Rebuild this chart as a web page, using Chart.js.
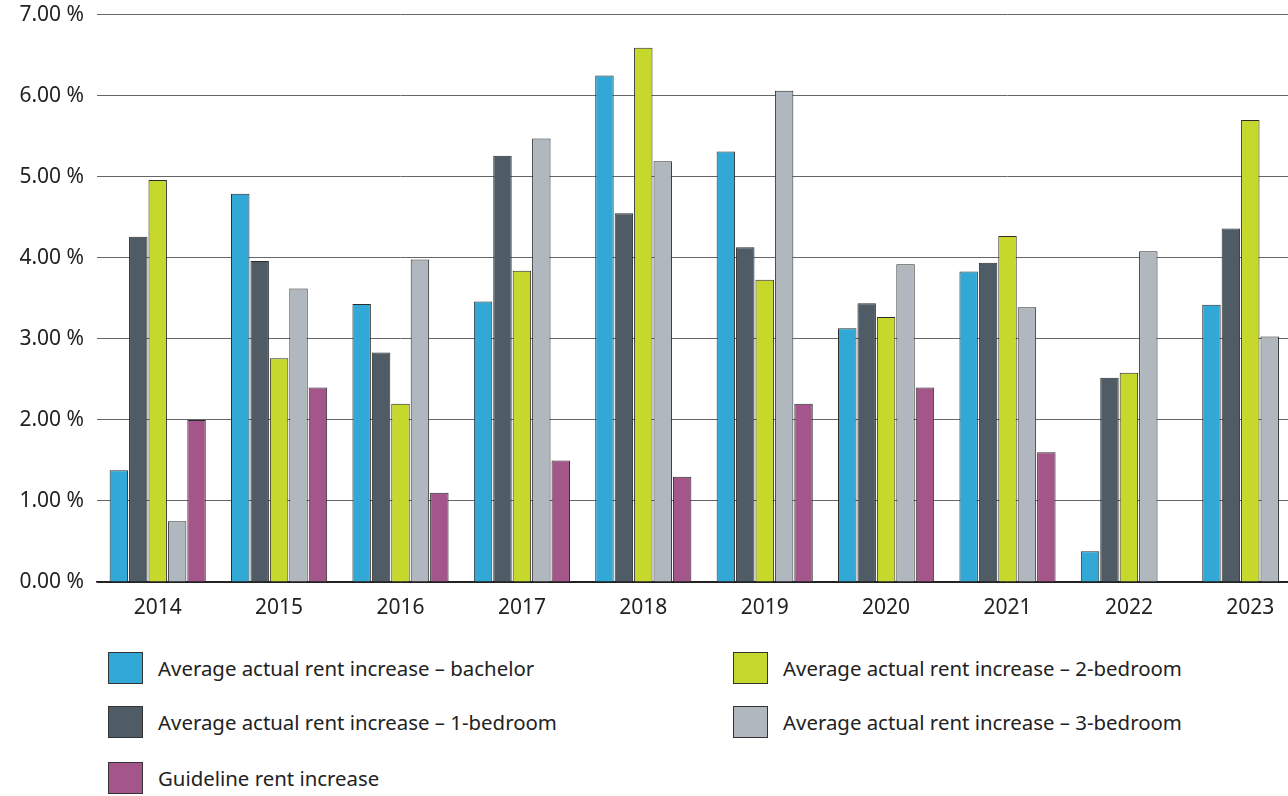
<!DOCTYPE html>
<html>
<head>
<meta charset="utf-8">
<script src="https://cdn.jsdelivr.net/npm/chart.js@4"></script>
<style>
    body { margin: 0; overflow: hidden; background: #fff; font-family: "Noto Sans", sans-serif; }
    #wrap { position: absolute; left: 0; top: -11px; width: 1311px; height: 634px; }
    .legend-item { position: absolute; height: 33px; display: flex; align-items: center; font-size: 20.4px; color: #222; white-space: nowrap; }
    .legend-box { width: 35px; height: 32px; border: 1px solid #333; margin-right: 15px; box-sizing: border-box; }
</style>
</head>
<body>
<div id="wrap"><canvas id="rentChart" width="1311" height="634"></canvas></div>
<div id="legend"></div>
<script>
// data (%)
var years = ['2014', '2015', '2016', '2017', '2018', '2019', '2020', '2021', '2022', '2023'];
var bachelor = [1.38, 4.79, 3.43, 3.46, 6.25, 5.31, 3.13, 3.83, 0.38, 3.42];
var oneBed = [4.26, 3.96, 2.83, 5.26, 4.55, 4.13, 3.44, 3.94, 2.52, 4.36];
var twoBed = [4.96, 2.76, 2.20, 3.84, 6.59, 3.73, 3.27, 4.27, 2.58, 5.70];
var threeBed = [0.75, 3.62, 3.98, 5.47, 5.19, 6.06, 3.92, 3.39, 4.08, 3.03];
var guideline = [2.0, 2.4, 1.1, 1.5, 1.3, 2.2, 2.4, 1.6, null, null];
var yTicks = [0, 1, 2, 3, 4, 5, 6, 7];

var seriesNames = [
    'Average actual rent increase \u2013 bachelor',
    'Average actual rent increase \u2013 1-bedroom',
    'Average actual rent increase \u2013 2-bedroom',
    'Average actual rent increase \u2013 3-bedroom',
    'Guideline rent increase'
];
var seriesColors = ['#32a8d6', '#4f5c65', '#c6d82c', '#b0b7be', '#a4558a'];
var seriesData = [bachelor, oneBed, twoBed, threeBed, guideline];

var datasets = seriesData.map(function (d, i) {
    return {
        label: seriesNames[i],
        data: d,
        backgroundColor: seriesColors[i],
        borderColor: '#2b2b2b',
        borderWidth: 1,
        categoryPercentage: 0.8,
        barPercentage: 0.95
    };
});

var ctx = document.getElementById('rentChart').getContext('2d');
var rentChart = new Chart(ctx, {
    type: 'bar',
    data: { labels: years, datasets: datasets },
    options: {
        responsive: false,
        animation: false,
        layout: { padding: { top: 1, right: 0, bottom: 0, left: 0 } },
        plugins: { legend: { display: false }, tooltip: { enabled: false } },
        scales: {
            x: {
                grid: { display: false },
                border: { color: '#222', width: 1.5 },
                ticks: { color: '#222', font: { family: 'Noto Sans', size: 21 }, padding: 5 },
                afterFit: function (scale) { scale.height = 41; }
            },
            y: {
                min: 0,
                max: 7,
                afterBuildTicks: function (scale) {
                    scale.ticks = yTicks.map(function (v) { return { value: v }; });
                },
                afterFit: function (scale) { scale.width = 97; },
                border: { display: false },
                grid: {
                    drawTicks: false,
                    color: function (c) { return c.tick && c.tick.value === 0 ? '#222' : '#666'; }
                },
                ticks: {
                    color: '#222',
                    padding: 13,
                    font: { family: 'Noto Sans', size: 21 },
                    callback: function (v) { return v.toFixed(2) + ' %'; }
                }
            }
        }
    }
});

// legend in two columns, built from the chart datasets
var legendSlots = [
    { idx: 0, left: 108, top: 651 },
    { idx: 1, left: 108, top: 705 },
    { idx: 4, left: 108, top: 761 },
    { idx: 2, left: 733, top: 651 },
    { idx: 3, left: 733, top: 705 }
];
var legendEl = document.getElementById('legend');
legendSlots.forEach(function (s) {
    var ds = rentChart.data.datasets[s.idx];
    var item = document.createElement('div');
    item.className = 'legend-item';
    item.style.left = s.left + 'px';
    item.style.top = s.top + 'px';
    var box = document.createElement('span');
    box.className = 'legend-box';
    box.style.background = ds.backgroundColor;
    item.appendChild(box);
    item.appendChild(document.createTextNode(ds.label));
    legendEl.appendChild(item);
});
</script>
</body>
</html>
